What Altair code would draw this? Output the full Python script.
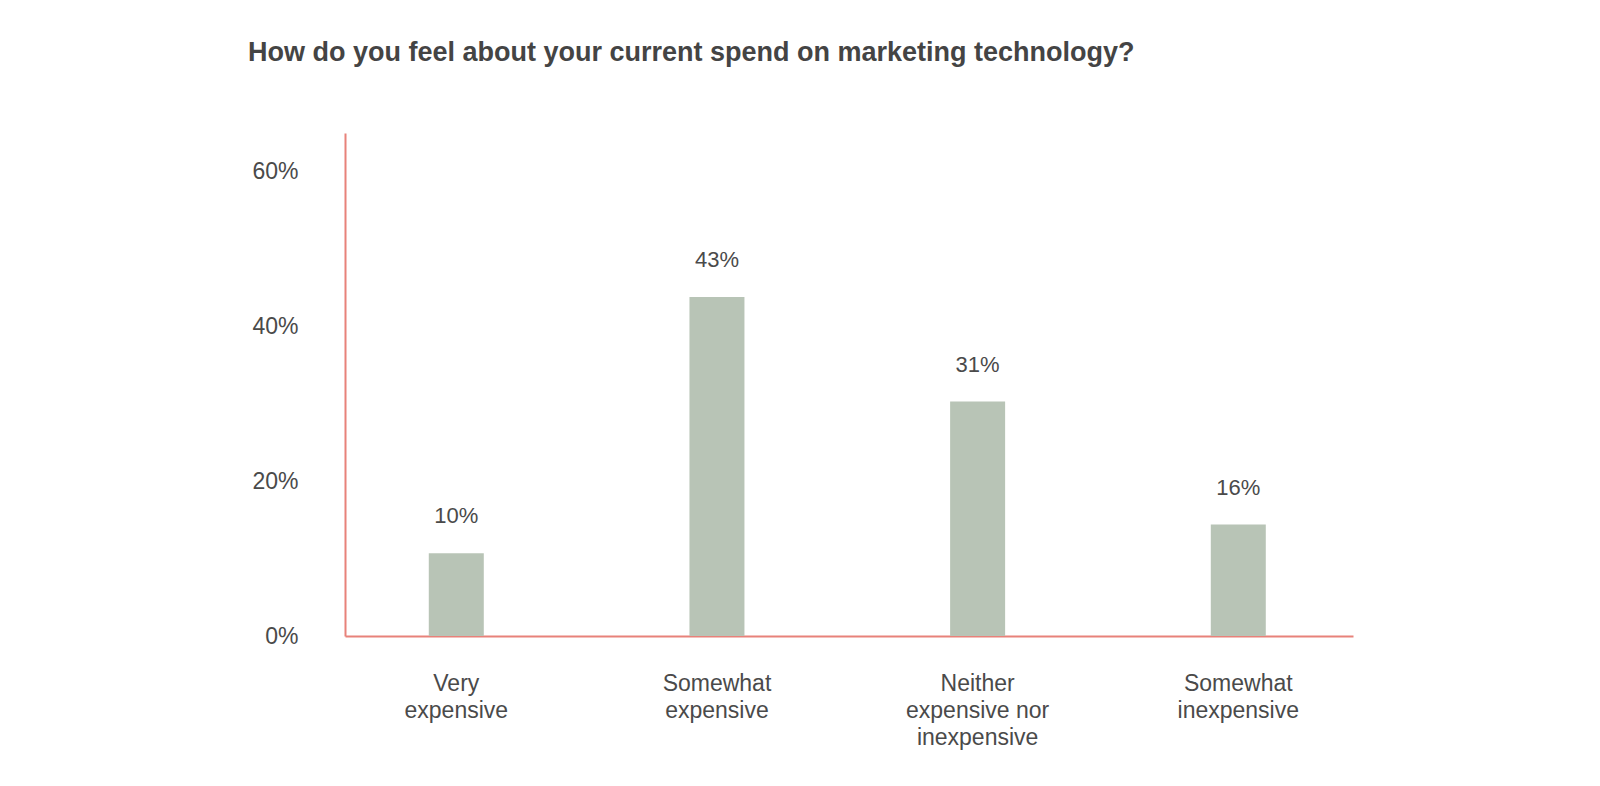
import altair as alt
import pandas as pd

categories = ["Very\nexpensive", "Somewhat\nexpensive", "Neither\nexpensive nor\ninexpensive", "Somewhat\ninexpensive"]
values = [10.7, 43.8, 30.3, 14.4]
labels = ["10%", "43%", "31%", "16%"]
y_ticks = [0, 20, 40, 60]

df = pd.DataFrame({"cat": categories, "val": values, "lab": labels})

FONT = "Liberation Sans"
AXIS_RED = "#e8827a"
BAR = "#b8c4b6"
TEXT = "#4a4a4a"

x_enc = alt.X(
    "cat:N",
    sort=categories,
    scale=alt.Scale(paddingInner=0.789, paddingOuter=0.328, align=0.49),
    axis=alt.Axis(
        title=None,
        labelAngle=0,
        labelFont=FONT,
        labelFontSize=23,
        labelColor=TEXT,
        labelLineHeight=27,
        labelPadding=36,
        ticks=False,
        tickSize=0,
        domainColor=AXIS_RED,
        domainWidth=2,
        grid=False,
        labelExpr="split(datum.label, '\\n')",
    ),
)

y_enc = alt.Y(
    "val:Q",
    scale=alt.Scale(domain=[0, 65], nice=False),
    axis=alt.Axis(
        title=None,
        values=y_ticks,
        labelExpr="datum.value + '%'",
        labelFont=FONT,
        labelFontSize=23,
        labelColor=TEXT,
        labelPadding=47,
        ticks=False,
        tickSize=0,
        domainColor=AXIS_RED,
        domainWidth=2,
        grid=False,
    ),
)

bars = alt.Chart(df).mark_bar(color=BAR).encode(x=x_enc, y=y_enc)

text = alt.Chart(df).mark_text(
    font=FONT, fontSize=22, color=TEXT, dy=-37, baseline="middle"
).encode(x=alt.X("cat:N", sort=categories), y="val:Q", text="lab:N")

chart = (
    alt.layer(bars, text)
    .properties(
        width=1008,
        height=503,
        view=alt.ViewBackground(stroke="transparent", strokeWidth=0, strokeOpacity=0),
        title=alt.TitleParams(
            "How do you feel about your current spend on marketing technology?",
            anchor="start",
            frame="bounds",
            font=FONT,
            fontSize=27,
            fontWeight="bold",
            color="#444444",
            baseline="alphabetic",
            offset=45,
            dx=-4,
        ),
        autosize=alt.AutoSizeParams(type="none"),
        padding={"left": 337, "top": 125, "right": 200, "bottom": 150},
    )
    .configure_view(stroke="transparent", strokeWidth=0, strokeOpacity=0)
    .configure(background="white", style={"cell": {"stroke": "transparent", "strokeWidth": 0}})
)

chart.save("out.html", embed_options={"renderer": "svg", "actions": False})
